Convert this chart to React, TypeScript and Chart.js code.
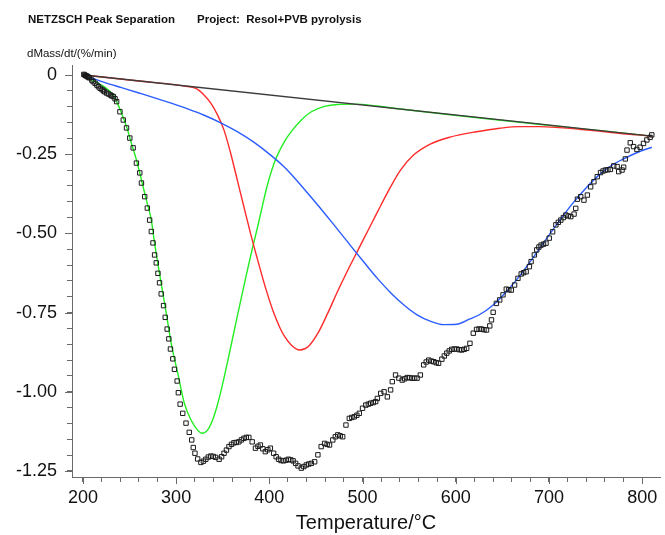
import React, { useEffect, useRef } from 'react';
import { Chart, registerables } from 'chart.js';

Chart.register(...registerables);

const FONT = '"Liberation Sans", Arial, Helvetica, sans-serif';
const AXIS_COLOR = '#6a6a6a';

const titleLeft = 'NETZSCH Peak Separation';
const titleRight = 'Project:  Resol+PVB pyrolysis';
const yAxisLabel = 'dMass/dt/(%/min)';
const xAxisLabel = 'Temperature/°C';

const xMajorTicks = [200, 300, 400, 500, 600, 700, 800];
const yMajorTicks = [0, -0.25, -0.5, -0.75, -1.0, -1.25];

// measured DTG curve (hollow squares): [temperature, rate]
const measured: [number, number][] = [
  [201, 0.002], [202, 0.0], [203, -0.002], [204, -0.003], [205, -0.005], [206, -0.007], [207, -0.009],
  [209.6, -0.016], [211, -0.021], [213, -0.026], [215, -0.032], [216.7, -0.037], [218.5, -0.042],
  [220.5, -0.046], [222, -0.05], [223.4, -0.053], [225.5, -0.057], [227.5, -0.06], [229.5, -0.063],
  [231, -0.066], [232.7, -0.068], [234.5, -0.075], [236.2, -0.084], [239.7, -0.116], [243.3, -0.142],
  [246.8, -0.167], [250.3, -0.199], [253.9, -0.23], [257.4, -0.278], [261.0, -0.309], [262.8, -0.341],
  [266.3, -0.384], [269.1, -0.42], [271.6, -0.458], [273.4, -0.494], [275.2, -0.53], [276.9, -0.568],
  [278.7, -0.593], [280.5, -0.626], [282.2, -0.656], [284.0, -0.691], [286.5, -0.728], [288.3, -0.765],
  [290.4, -0.802], [292.2, -0.833], [293.9, -0.865], [296.5, -0.896], [298.2, -0.929], [301.1, -0.966],
  [302.4, -1.003], [304.3, -1.039], [307.1, -1.068], [310.6, -1.099], [314.1, -1.128], [316.7, -1.152],
  [318.4, -1.176], [320.2, -1.194], [323.1, -1.212], [326.6, -1.223], [329.3, -1.219], [331.9, -1.213],
  [334.5, -1.206], [337.2, -1.203], [339.8, -1.204], [342.5, -1.207], [346.1, -1.213], [348.8, -1.205],
  [351.4, -1.194], [354, -1.184], [356.7, -1.173], [359.4, -1.166], [362.0, -1.161], [364.6, -1.16],
  [367.3, -1.158], [370, -1.152], [372.7, -1.147], [375.3, -1.144], [378.0, -1.144], [381.6, -1.158],
  [385.1, -1.178], [387.8, -1.172], [390.4, -1.168], [393, -1.18], [395.7, -1.189], [398.4, -1.183],
  [401.1, -1.178], [404.6, -1.194], [407.3, -1.205], [409.9, -1.213], [412.5, -1.217], [415.2, -1.218],
  [417.9, -1.216], [420.5, -1.213], [423, -1.215], [425.5, -1.218], [428.2, -1.226], [430.8, -1.234],
  [434.3, -1.241], [437, -1.236], [439.7, -1.231], [442.3, -1.228], [445.0, -1.226], [448.6, -1.221],
  [452.1, -1.199], [455.6, -1.173], [459.3, -1.163], [462, -1.166], [464.6, -1.168], [468.1, -1.152],
  [470.8, -1.142], [473.4, -1.136], [476, -1.139], [478.7, -1.142], [482.2, -1.105], [485.8, -1.084],
  [488.5, -1.081], [491.2, -1.079], [493.9, -1.074], [496.5, -1.068], [500.0, -1.052], [503.5, -1.042],
  [506.2, -1.039], [508.8, -1.036], [511.5, -1.034], [514.1, -1.031], [515.9, -1.021], [519.5, -1.005],
  [523.1, -1.0], [526.6, -1.016], [530.1, -0.994], [531.9, -0.968], [535.4, -0.947], [539.0, -0.957],
  [542.5, -0.963], [545.2, -0.959], [547.9, -0.955], [550.5, -0.956], [553.2, -0.957], [555.9, -0.957],
  [558.5, -0.957], [562.0, -0.947], [565.6, -0.915], [568.3, -0.906], [571.0, -0.9], [573.7, -0.903],
  [576.3, -0.905], [579, -0.908], [581.6, -0.91], [585.1, -0.897], [587.7, -0.887], [590.4, -0.878],
  [593, -0.871], [595.7, -0.866], [598.4, -0.865], [601.1, -0.865], [603.7, -0.867], [606.4, -0.868],
  [609, -0.866], [611.7, -0.863], [615.2, -0.847], [618.8, -0.815], [622.3, -0.803], [625, -0.802],
  [627.6, -0.802], [630.3, -0.804], [633.0, -0.805], [636.5, -0.792], [638.3, -0.773], [640.1, -0.749],
  [643.6, -0.721], [647.1, -0.71], [650.7, -0.694], [654.2, -0.676], [656.9, -0.678], [659.6, -0.679],
  [663.1, -0.663], [666.7, -0.642], [670.2, -0.628], [672.8, -0.624], [675.5, -0.621], [679.0, -0.605],
  [680.8, -0.589], [684.3, -0.568], [686.9, -0.552], [689.2, -0.543], [691.5, -0.537], [694.1, -0.534],
  [696.8, -0.531], [700.3, -0.515], [703.9, -0.495], [707.4, -0.473], [710, -0.465], [712.7, -0.458],
  [715.4, -0.45], [718.1, -0.442], [720.7, -0.445], [723.4, -0.447], [726.9, -0.439], [728.7, -0.421],
  [730.5, -0.392], [734.0, -0.384], [737.5, -0.395], [741.2, -0.379], [744.7, -0.353], [748.2, -0.337],
  [751.8, -0.321], [755.3, -0.308], [758, -0.303], [760.6, -0.3], [763.2, -0.299], [765.9, -0.298],
  [769.5, -0.287], [773.1, -0.289], [774.8, -0.305], [778.4, -0.3], [780.1, -0.291], [781.9, -0.265],
  [783.7, -0.237], [787.2, -0.214], [790.7, -0.226], [794.3, -0.235], [797.8, -0.228], [801.4, -0.216],
  [805.0, -0.205], [808.5, -0.197], [810.3, -0.189],
];

// fitted peak 1 (green)
const greenPeak: [number, number][] = [
  [201, -0.002], [213.1, -0.021], [223.7, -0.039], [230.9, -0.058], [236.2, -0.084], [241.5, -0.121],
  [246.8, -0.163], [252.1, -0.216], [257.4, -0.268], [262.8, -0.331], [268.1, -0.395], [273.4, -0.458],
  [276.9, -0.531], [281.2, -0.61], [289.4, -0.752], [294.7, -0.847], [301.8, -0.942], [308.8, -1.036],
  [316.0, -1.089], [323.1, -1.121], [327.7, -1.131], [333.7, -1.121], [339.0, -1.09], [344.4, -1.04],
  [349.7, -0.978], [355.0, -0.908], [360.3, -0.835], [365.6, -0.762], [371.0, -0.689], [376.3, -0.618],
  [381.6, -0.55], [386.9, -0.486], [392.2, -0.418], [397.5, -0.352], [402.8, -0.298], [408.2, -0.256],
  [416.7, -0.208], [423.7, -0.178], [434.3, -0.142], [445.0, -0.116], [459.3, -0.099], [473.4, -0.093],
  [491.2, -0.092], [515.9, -0.098], [533.7, -0.105], [810.3, -0.193],
];

// fitted peak 2 (red)
const redPeak: [number, number][] = [
  [201, 0.0], [260, -0.019], [300, -0.031], [308.8, -0.035], [321.3, -0.042], [328.4, -0.058],
  [337.2, -0.089], [344.4, -0.126], [351.4, -0.174], [358.5, -0.247], [365.6, -0.331], [372.7, -0.416],
  [379.8, -0.5], [386.9, -0.578], [392.2, -0.634], [397.5, -0.687], [404.6, -0.75], [411.7, -0.8],
  [416.7, -0.827], [423.7, -0.853], [432.7, -0.868], [441.5, -0.858], [452.1, -0.815], [462.8, -0.751],
  [473.4, -0.682], [484.0, -0.617], [494.7, -0.555], [505.3, -0.494], [515.9, -0.433], [526.6, -0.372],
  [540.7, -0.3], [555.0, -0.252], [572.6, -0.218], [593.9, -0.196], [622.3, -0.179], [647.1, -0.168],
  [668.4, -0.163], [689.7, -0.163], [711.0, -0.166], [732.2, -0.171], [753.5, -0.177], [774.8, -0.184],
  [796.0, -0.189], [810.3, -0.193],
];

// fitted peak 3 (blue)
const bluePeak: [number, number][] = [
  [201, -0.005], [209.6, -0.01], [223.7, -0.024], [241.5, -0.04], [259.3, -0.056], [276.9, -0.072],
  [294.7, -0.089], [312.4, -0.107], [330.1, -0.127], [347.9, -0.151], [365.6, -0.179], [383.3, -0.212],
  [401.1, -0.252], [415.2, -0.288], [423.7, -0.314], [438.0, -0.362], [452.1, -0.411], [466.3, -0.462],
  [480.5, -0.514], [487.5, -0.54], [501.8, -0.592], [515.9, -0.642], [530.1, -0.687], [544.4, -0.726],
  [558.5, -0.757], [572.6, -0.777], [586.9, -0.788], [601.0, -0.787], [615.2, -0.77], [625.8, -0.756],
  [640.1, -0.726], [654.2, -0.684], [668.4, -0.635], [682.6, -0.578], [696.8, -0.519], [710.9, -0.461],
  [725.2, -0.406], [739.3, -0.358], [753.5, -0.316], [767.7, -0.284], [781.9, -0.262], [796.0, -0.243],
  [810.3, -0.228],
];

// linear baseline
const baseline: [number, number][] = [
  [201, 0.0], [810.3, -0.193],
];

const toXY = (arr: [number, number][]) => arr.map(([x, y]) => ({ x, y }));

const headerPlugin = {
  id: 'headerText',
  afterDraw(chart: any) {
    const ctx = chart.ctx;
    ctx.save();
    ctx.fillStyle = '#111';
    ctx.textBaseline = 'alphabetic';
    ctx.textAlign = 'left';
    ctx.font = `bold 11.5px ${FONT}`;
    ctx.fillText(titleLeft, 28, 22.5);
    ctx.fillText(titleRight, 197, 22.5);
    ctx.font = `11.5px ${FONT}`;
    ctx.fillText(yAxisLabel, 27, 56.5);
    ctx.restore();
  },
};

// longer tick marks at the labelled (major) values
const majorTickPlugin = {
  id: 'majorTicks',
  afterDraw(chart: any) {
    const { ctx, scales } = chart;
    const x = scales.x;
    const y = scales.y;
    ctx.save();
    ctx.strokeStyle = AXIS_COLOR;
    ctx.lineWidth = 1;
    ctx.beginPath();
    for (const v of xMajorTicks) {
      const px = Math.round(x.getPixelForValue(v)) + 0.5;
      ctx.moveTo(px, x.top);
      ctx.lineTo(px, x.top + 7);
    }
    for (const v of yMajorTicks) {
      const py = Math.round(y.getPixelForValue(v)) + 0.5;
      ctx.moveTo(y.right - 7, py);
      ctx.lineTo(y.right, py);
    }
    ctx.stroke();
    ctx.restore();
  },
};

export default function App() {
  const canvasRef = useRef<HTMLCanvasElement | null>(null);

  useEffect(() => {
    if (!canvasRef.current) return;
    const lineStyle = {
      pointRadius: 0,
      borderWidth: 1.4,
      fill: false,
      cubicInterpolationMode: 'monotone' as const,
      showLine: true,
    };
    const chart = new Chart(canvasRef.current, {
      type: 'line',
      data: {
        datasets: [
          {
            label: 'measured',
            data: toXY(measured),
            showLine: false,
            pointStyle: 'rect',
            pointRadius: 3.1,
            pointBorderWidth: 1,
            pointBorderColor: '#1a1a1a',
            pointBackgroundColor: 'rgba(255,255,255,0)',
            borderColor: '#1a1a1a',
            order: 0,
          },
          { label: 'baseline', data: toXY(baseline), borderColor: '#3c3c3c', ...lineStyle, order: 1 },
          { label: 'blue', data: toXY(bluePeak), borderColor: '#2a5cff', ...lineStyle, order: 2 },
          { label: 'red', data: toXY(redPeak), borderColor: '#ff2a2a', ...lineStyle, order: 3 },
          { label: 'green', data: toXY(greenPeak), borderColor: '#22ee22', ...lineStyle, order: 4 },
        ],
      },
      options: {
        animation: false,
        responsive: true,
        maintainAspectRatio: false,
        devicePixelRatio: 1,
        parsing: false as any,
        layout: { padding: { top: 65, left: 0, right: 0, bottom: 0 } },
        plugins: {
          legend: { display: false },
          tooltip: { enabled: false },
          title: { display: false },
        },
        scales: {
          x: {
            type: 'linear',
            min: 188.3,
            max: 819.1,
            border: { display: true, color: AXIS_COLOR, width: 1 },
            grid: { drawOnChartArea: false, drawTicks: true, tickLength: 5, color: AXIS_COLOR },
            ticks: {
              stepSize: 20,
              autoSkip: false,
              includeBounds: false,
              maxRotation: 0,
              padding: 5,
              color: '#111',
              font: { size: 18, family: FONT },
              callback: (v: any) => {
                const n = Math.round(Number(v));
                return xMajorTicks.includes(n) ? String(n) : '';
              },
            },
            title: {
              display: true,
              text: xAxisLabel,
              color: '#111',
              font: { size: 20, family: FONT },
              padding: { top: 0, bottom: 0 },
            },
            afterFit: (s: any) => {
              s.height = 58;
            },
          },
          y: {
            type: 'linear',
            min: -1.269,
            max: 0.0316,
            border: { display: true, color: AXIS_COLOR, width: 1 },
            grid: { drawOnChartArea: false, drawTicks: true, tickLength: 5, color: AXIS_COLOR },
            ticks: {
              stepSize: 0.05,
              autoSkip: false,
              includeBounds: false,
              padding: 10,
              color: '#111',
              font: { size: 18, family: FONT },
              callback: (v: any) => {
                const n = Number(v);
                const hit = yMajorTicks.find((t) => Math.abs(t - n) < 1e-6);
                if (hit === undefined) return '';
                return hit === 0 ? '0' : hit.toFixed(2);
              },
            },
            afterFit: (s: any) => {
              s.width = 72;
            },
          },
        },
      },
      plugins: [headerPlugin, majorTickPlugin],
    });
    return () => chart.destroy();
  }, []);

  return (
    <div style={{ position: 'fixed', left: 0, top: 0, width: 665, height: 535, background: '#fff' }}>
      <canvas ref={canvasRef} />
    </div>
  );
}
